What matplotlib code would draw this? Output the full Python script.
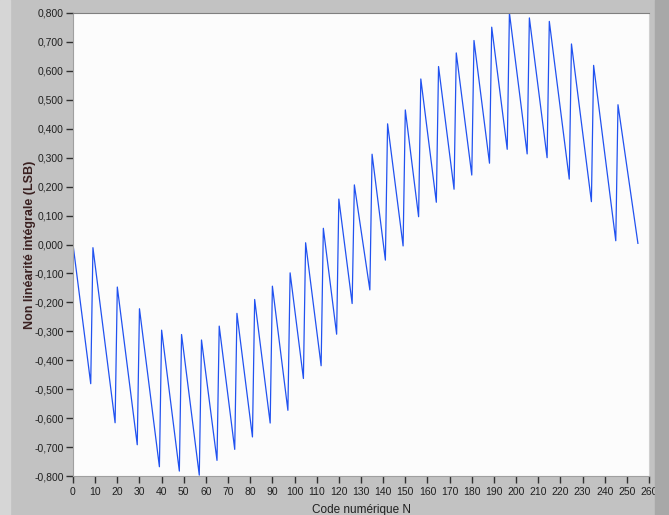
import matplotlib.pyplot as plt
from matplotlib.ticker import FuncFormatter
import matplotlib.patches as mpatches

# INL sawtooth : bas de chaque dent puis haut de la dent suivante (code, LSB)
start_code, start_inl = 0, 0.0
valley_codes = [8, 19, 29, 39, 48, 57, 65, 73, 81, 89, 97, 104, 112, 119, 126,
                134, 141, 149, 156, 164, 172, 180, 188, 196, 205, 214, 224, 234, 245]
valley_inl = [-0.481, -0.616, -0.692, -0.768, -0.783, -0.797, -0.746, -0.708, -0.665,
              -0.617, -0.573, -0.463, -0.419, -0.310, -0.204, -0.157, -0.054, -0.005,
              0.096, 0.146, 0.191, 0.240, 0.281, 0.329, 0.313, 0.300, 0.226, 0.148, 0.013]
peak_codes = [9, 20, 30, 40, 49, 58, 66, 74, 82, 90, 98, 105, 113, 120, 127,
              135, 142, 150, 157, 165, 173, 181, 189, 197, 206, 215, 225, 235, 246]
peak_inl = [-0.011, -0.147, -0.222, -0.296, -0.311, -0.330, -0.282, -0.238, -0.190,
            -0.144, -0.098, 0.006, 0.056, 0.157, 0.206, 0.312, 0.417, 0.465,
            0.572, 0.615, 0.662, 0.705, 0.751, 0.800, 0.783, 0.771, 0.693, 0.619, 0.483]
end_code, end_inl = 255, 0.004

x_ticks = list(range(0, 261, 10))
y_ticks = [-0.8, -0.7, -0.6, -0.5, -0.4, -0.3, -0.2, -0.1, 0.0, 0.1, 0.2, 0.3, 0.4, 0.5, 0.6, 0.7, 0.8]

codes = [start_code]
inl = [start_inl]
for vc, vi, pc, pi in zip(valley_codes, valley_inl, peak_codes, peak_inl):
    codes += [vc, pc]
    inl += [vi, pi]
codes.append(end_code)
inl.append(end_inl)

plt.rcParams['font.family'] = ['Liberation Sans', 'DejaVu Sans']

fig = plt.figure(figsize=(6.69, 5.15), dpi=100, facecolor='#c2c2c2')
# bandes du cadre
fig.patches.append(mpatches.Rectangle((0, 0), 10 / 669, 1, transform=fig.transFigure,
                                      color='#d6d6d6', zorder=0))
fig.patches.append(mpatches.Rectangle((655 / 669, 0), 14 / 669, 1, transform=fig.transFigure,
                                      color='#a8a8a8', zorder=0))

ax = fig.add_axes([73 / 669, 1 - 476 / 515, 576 / 669, 463 / 515])
ax.set_facecolor('#fcfcfc')
ax.plot(codes, inl, color='#2152f0', lw=0.9)

ax.set_xlim(0, 260)
ax.set_ylim(-0.8, 0.8)
ax.set_xticks(x_ticks)
ax.set_yticks(y_ticks)
ax.yaxis.set_major_formatter(FuncFormatter(lambda v, p: f"{v:.3f}".replace('.', ',').replace('-0,000', '0,000')))
ax.tick_params(direction='out', length=5, width=1, color='#303030', labelsize=7.5,
               labelcolor='#202020', pad=1.5)
ax.tick_params(axis='x', pad=3)

for side in ['left', 'bottom']:
    ax.spines[side].set_color('#a0a0a0')
ax.spines['top'].set_color('#808080')
ax.spines['right'].set_color('#d0d0d0')

ax.set_ylabel('Non linéarité intégrale (LSB)', fontsize=9, fontweight='bold', color='#3a2020', labelpad=-1)
ax.set_xlabel('Code numérique N', fontsize=8.5, color='#202020', labelpad=5)

fig.savefig('out.png', dpi=100, facecolor=fig.get_facecolor())
